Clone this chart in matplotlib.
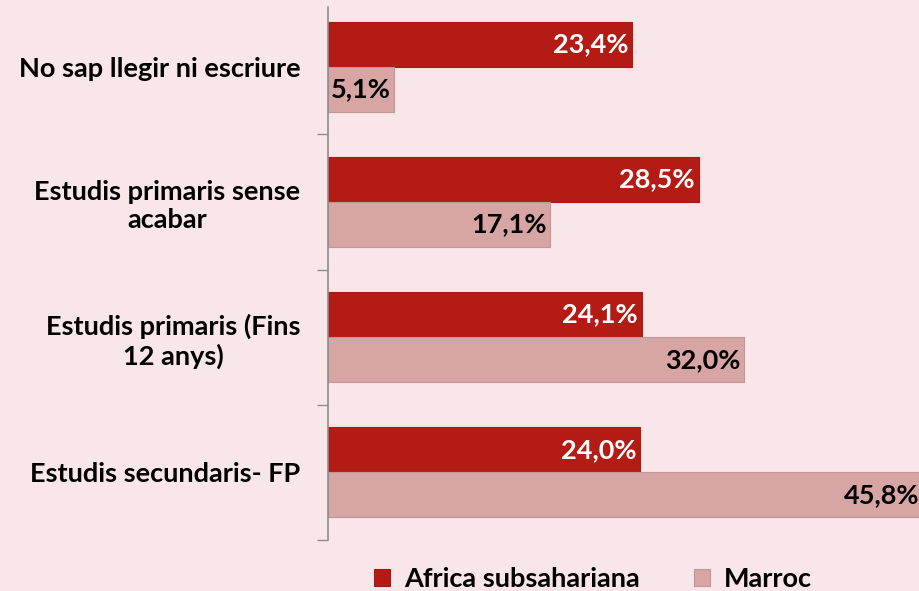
import matplotlib
matplotlib.use("Agg")
import matplotlib.pyplot as plt
import numpy as np

categories = ["No sap llegir ni escriure", "Estudis primaris sense\nacabar",
              "Estudis primaris (Fins\n12 anys)", "Estudis secundaris- FP"]
series_names = ["Africa subsahariana", "Marroc"]
africa = [23.4, 28.5, 24.1, 24.0]
marroc = [5.1, 17.1, 32.0, 45.8]
africa_labels = ["23,4%", "28,5%", "24,1%", "24,0%"]
marroc_labels = ["5,1%", "17,1%", "32,0%", "45,8%"]

plt.rcParams['font.family'] = ['Lato', 'DejaVu Sans']
plt.rcParams['font.weight'] = 'bold'

W, H = 920, 591
fig = plt.figure(figsize=(W/100, H/100), dpi=100)
fig.patch.set_facecolor('#F9E6E8')

left = 328 / W
bottom = (H - 540) / H
top = 1.0 + 1 / H
ax = fig.add_axes([left, bottom, 1.0 - left, top - bottom])
ax.set_facecolor('none')

y = np.arange(len(categories))
h = 0.333
dark = '#B31B14'
light = '#D8A5A5'
b1 = ax.barh(y - h/2, africa, height=h, color=dark, edgecolor='#A51C17', linewidth=0.8,
             label=series_names[0])
b2 = ax.barh(y + h/2, marroc, height=h, color=light, edgecolor='#BE9696', linewidth=0.8,
             label=series_names[1])

ax.set_xlim(0, 45.5)
ax.set_ylim(3.5, -0.5)

FS = 19.5
for rect, lab in zip(b1, africa_labels):
    ax.annotate(lab, (rect.get_width(), rect.get_y() + rect.get_height()/2),
                xytext=(-4, 0), textcoords='offset pixels', ha='right', va='center',
                color='white', fontsize=FS, fontweight='bold')
for rect, lab in zip(b2, marroc_labels):
    ax.annotate(lab, (rect.get_width(), rect.get_y() + rect.get_height()/2),
                xytext=(-4, 0), textcoords='offset pixels', ha='right', va='center',
                color='black', fontsize=FS, fontweight='bold', annotation_clip=False)

ax.set_yticks(y)
ax.set_yticklabels(categories, fontsize=FS, fontweight='bold', multialignment='center')
ax.tick_params(axis='y', which='major', length=0, pad=20)
ax.set_yticks(np.arange(0.5, len(categories), 1.0), minor=True)
ax.tick_params(axis='y', which='minor', length=8, width=1, color='#8C8C8C', direction='out')
ax.set_xticks([])
for s in ['top', 'right', 'bottom']:
    ax.spines[s].set_visible(False)
ax.spines['left'].set_color('#8C8C8C')
ax.spines['left'].set_linewidth(1.2)
ax.spines['left'].set_bounds(3.5, -0.44)

fig.legend(handles=[b1, b2], labels=series_names, loc='center',
           bbox_to_anchor=(593 / W, 1 - 579 / H), ncol=2, frameon=False,
           handlelength=0.6, handleheight=0.6, handletextpad=0.5,
           columnspacing=2.0, prop={'weight': 'bold', 'size': FS})

fig.savefig('out.png', dpi=100, facecolor=fig.get_facecolor())
